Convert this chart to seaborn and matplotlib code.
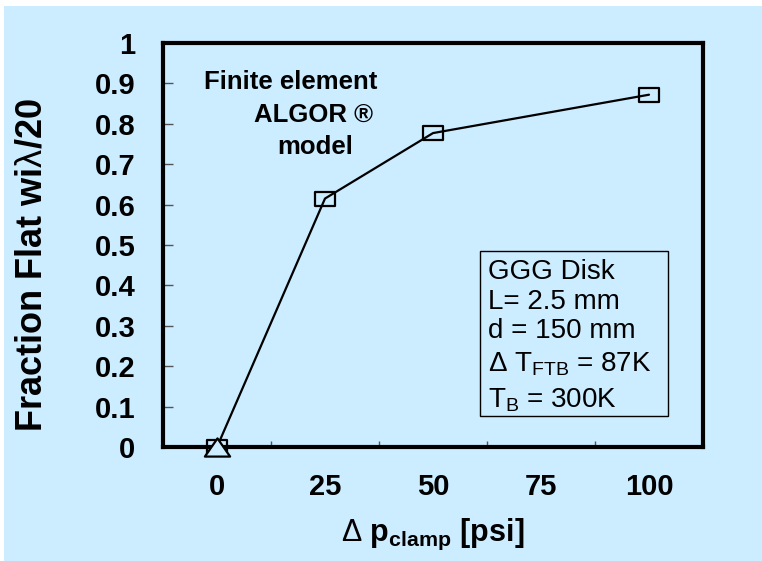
import matplotlib
matplotlib.use("Agg")
import matplotlib.pyplot as plt
from matplotlib.patches import Rectangle
from matplotlib.path import Path
from matplotlib.ticker import FixedLocator
import seaborn as sns
import pandas as pd

# ---------------- data ----------------
categories = ["0", "25", "50", "75", "100"]
fem_pressure = ["0", "25", "50", "100"]
fem_fraction = [0.0, 0.615, 0.777, 0.872]
ref_pressure = ["0"]
ref_fraction = [0.0]
y_tick_values = [0.0, 0.1, 0.2, 0.3, 0.4, 0.5, 0.6, 0.7, 0.8, 0.9, 1.0]
y_tick_labels = ["0", "0.1", "0.2", "0.3", "0.4", "0.5", "0.6", "0.7", "0.8", "0.9", "1"]
note_lines = ["Finite element", "ALGOR \u00ae", "model"]
box_lines = ["GGG Disk", "L= 2.5 mm", "d = 150 mm",
             r"$\mathrm{\Delta}$ T$_{FTB}$ = 87K", r"T$_{B}$ = 300K"]
x_label = r"$\mathrm{\Delta}$ p$_{clamp}$ [psi]"
y_label = r"Fraction Flat wi$\mathrm{\lambda}$/20"

BG = "#CCECFF"

sns.set_theme(style="white")
plt.rcParams["font.family"] = ["Liberation Sans", "DejaVu Sans"]
plt.rcParams["mathtext.fontset"] = "custom"
plt.rcParams["mathtext.rm"] = "Liberation Sans"
plt.rcParams["mathtext.it"] = "Liberation Sans"
plt.rcParams["mathtext.bf"] = "Liberation Sans:bold"
plt.rcParams["mathtext.default"] = "regular"
plt.rcParams["text.color"] = "black"
plt.rcParams["axes.labelcolor"] = "black"
plt.rcParams["xtick.color"] = "black"
plt.rcParams["ytick.color"] = "black"

W, H = 762, 561
fig = plt.figure(figsize=(W / 100, H / 100), dpi=100, facecolor="white")
fig.patches.append(Rectangle((4 / W, 0), 1, 1 - 6 / H, transform=fig.transFigure,
                             facecolor=BG, edgecolor="none", zorder=-10))

ax = fig.add_axes([163 / W, 1 - 447 / H, (703 - 163) / W, (447 - 43) / H])
ax.set_facecolor(BG)

fem = pd.DataFrame({"pressure": fem_pressure, "fraction": fem_fraction})
fem["pos"] = fem["pressure"].map(categories.index)
ref = pd.DataFrame({"pressure": ref_pressure, "fraction": ref_fraction})
ref["pos"] = ref["pressure"].map(categories.index)

rect_marker = Path([(-1.1, -0.7), (1.1, -0.7), (1.1, 0.7), (-1.1, 0.7), (-1.1, -0.7)],
                   [Path.MOVETO, Path.LINETO, Path.LINETO, Path.LINETO, Path.CLOSEPOLY])
tri_marker = Path([(0, 0.9), (-1.25, -0.9), (1.25, -0.9), (0, 0.9)],
                  [Path.MOVETO, Path.LINETO, Path.LINETO, Path.CLOSEPOLY])

sns.lineplot(data=fem, x="pos", y="fraction", color="black", linewidth=1.6,
             marker=rect_marker, markersize=15, markerfacecolor="none",
             markeredgecolor="black", markeredgewidth=1.6, errorbar=None,
             clip_on=False, zorder=3, ax=ax)
sns.scatterplot(data=ref, x="pos", y="fraction", marker=tri_marker, s=330,
                facecolor=BG, edgecolor="black", linewidth=1.6,
                clip_on=False, zorder=4, ax=ax)

ax.set_xlim(-0.5, len(categories) - 0.5)
ax.set_ylim(0, 1)
ax.set_xticks(range(len(categories)), labels=categories)
ax.xaxis.set_minor_locator(FixedLocator([i + 0.5 for i in range(len(categories) - 1)]))
ax.set_yticks(y_tick_values, labels=y_tick_labels)

ax.tick_params(axis="x", which="major", length=0, pad=19, labelsize=21,
               labelcolor="black")
ax.tick_params(axis="x", which="minor", direction="in", length=4, width=1,
               color="#555555", bottom=True)
ax.tick_params(axis="y", direction="in", length=7, width=1, color="#555555",
               pad=20, labelsize=21, left=True, labelcolor="black")
for lab in ax.get_xticklabels() + ax.get_yticklabels():
    lab.set_fontweight("bold")

for sp in ax.spines.values():
    sp.set_visible(True)
    sp.set_color("black")
    sp.set_linewidth(3)

ax.set_xlabel(x_label, fontsize=22, fontweight="bold", color="black")
ax.xaxis.set_label_coords(0.5, -0.172)
ax.set_ylabel(y_label, fontsize=26, fontweight="bold", color="black")
ax.yaxis.set_label_coords(-0.21, 0.45)

# annotation
note_pos = [(291, 89), (314, 122), (315, 154)]
for txt, (px, py) in zip(note_lines, note_pos):
    fig.text(px / W, 1 - py / H, txt, ha="center", va="baseline",
             fontsize=18.5, fontweight="bold", color="black")

# parameter box
fig.patches.append(Rectangle((480 / W, 1 - 416 / H), (668 - 480) / W, (416 - 251) / H,
                             transform=fig.transFigure, facecolor="none",
                             edgecolor="black", linewidth=1, zorder=5))
box_baselines = [279, 309, 338, 372, 407]
for txt, by in zip(box_lines, box_baselines):
    fig.text(488 / W, 1 - by / H, txt, ha="left", va="baseline",
             fontsize=20, color="black")

fig.savefig("out.png", dpi=100, facecolor=fig.get_facecolor())
